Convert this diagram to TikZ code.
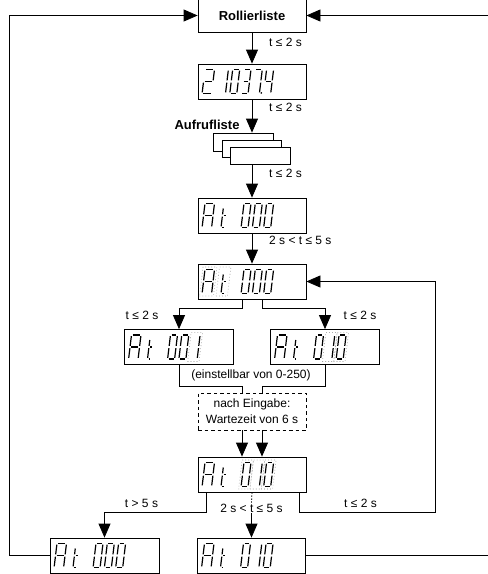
\documentclass[tikz,border=0pt]{standalone}
\usepackage{fontspec}
\setmainfont{Liberation Sans}
\usetikzlibrary{arrows.meta,calc}
\newcommand\segW{7}
\pgfkeys{
 /seg/a/.code={\draw[segline] (1.1,24) -- ({\segW-1.1},24);},
 /seg/b/.code={\draw[segline] (\segW,22.9) -- (\segW,13.1);},
 /seg/c/.code={\draw[segline] (\segW,10.9) -- (\segW,1.1);},
 /seg/d/.code={\draw[segline] (1.1,0) -- ({\segW-1.1},0);},
 /seg/e/.code={\draw[segline] (0,1.1) -- (0,10.9);},
 /seg/f/.code={\draw[segline] (0,13.1) -- (0,22.9);},
 /seg/g/.code={\draw[segline] (1.1,12) -- ({\segW-1.1},12);},
 /seg/p/.code={\fill ({\segW+1.8},0.6) circle (0.9pt);},
 /seg/t/.code={\draw[segline] (2.5,19) -- (2.5,13.1); \draw[segline] (2.5,10.9) -- (2.5,1.1); \draw[segline] (3.6,12) -- (5.8,12); \draw[segline] (3.6,0) -- (5.2,0);},
 /seg/blink/.code={\draw[blinkline] (-2.2,-2.5) -- ({\segW+2.2},-2.5) -- ({\segW+2.2},26.5) -- (-2.2,26.5) -- cycle;}
}
\tikzset{
 segline/.style={line width=1.2pt, line cap=butt},
 blinkline/.style={gray, line width=0.6pt, dash pattern=on 0.6pt off 2.4pt},
 pics/ss/.style={code={\begin{scope}[x={(1pt,0pt)},y={(0.12pt,1pt)}]\foreach \s in {#1}{\edef\tmp{\noexpand\pgfkeys{/seg/\s}}\tmp}\end{scope}}},
 pics/sw/.style={code={\begin{scope}[x={(1pt,0pt)},y={(0.12pt,1pt)}]\renewcommand\segW{9.5}\foreach \s in {#1}{\edef\tmp{\noexpand\pgfkeys{/seg/\s}}\tmp}\end{scope}}},
 disp/.style={draw, line width=0.8pt, minimum width=108pt, minimum height=35pt, inner sep=0pt, fill=white},
 stackbox/.style={draw, line width=0.8pt, minimum width=60pt, minimum height=17pt, inner sep=0pt, fill=white},
 lbl/.style={font=\fontsize{12}{14}\selectfont, inner sep=1pt},
 conn/.style={line width=0.8pt},
 arr/.style={line width=0.8pt, -{Triangle[length=14pt,width=12pt]}},
}
\newcommand\glyph[4]{\pic at ($(#1.west)+(#2,12)$) {#3={#4}};}
\begin{document}
\begin{tikzpicture}[x=1pt,y=-1pt]
\useasboundingbox (0,0) rectangle (488,574);
% nodes
\node[draw, line width=0.8pt, minimum width=108pt, minimum height=33pt, font=\fontsize{13}{15}\selectfont\bfseries] (Roll) at (252,15.5) {Rollierliste};
\node[disp] (D1) at (252,81.5) {};
\node[font=\fontsize{13}{15}\selectfont\bfseries, inner sep=0pt] (Auf) at (207,125) {Aufrufliste};
\node[stackbox, minimum height=18pt] (B1) at (243,142) {};
\node[stackbox, minimum width=59pt] (B2) at (251.5,148.5) {};
\node[stackbox] (B3) at (260,155.5) {};
\node[disp] (D2) at (252,215.5) {};
\node[disp] (D3) at (252,281.5) {};
\node[disp, minimum width=109pt] (D4) at (179,347) {};
\node[disp, minimum width=109pt] (D5) at (325,347) {};
\node[lbl] (Ein) at (251,375) {(einstellbar von 0-250)};
\node[draw, dash pattern=on 3.5pt off 3pt, line width=0.8pt, minimum width=108pt, minimum height=37pt, align=center, font=\fontsize{12}{16}\selectfont, inner sep=1pt] (Dash) at (252,411.5) {nach Eingabe:\\Wartezeit von 6 s};
\node[disp] (D6) at (252,474.5) {};
\node[disp, minimum width=109pt] (D7) at (104.5,555.5) {};
\node[disp] (D8) at (251.5,555.5) {};
% labels
\node[lbl, anchor=west] (L1) at (268,42) {t ≤ 2 s};
\node[lbl, anchor=west] (L2) at (268,107) {t ≤ 2 s};
\node[lbl, anchor=west] (L3) at (268,173) {t ≤ 2 s};
\node[lbl, anchor=west] (L4) at (268,240) {2 s < t ≤ 5 s};
\node[lbl] (L5) at (142,315) {t ≤ 2 s};
\node[lbl] (L6) at (360,315) {t ≤ 2 s};
\node[lbl] (L7) at (141.5,503) {t > 5 s};
\node[lbl] (L8) at (251.5,508) {2 s < t ≤ 5 s};
\node[lbl] (L9) at (360.5,503) {t ≤ 2 s};
\coordinate (LX) at (9,0);
\coordinate (RX) at (494,0);
\coordinate (RV) at (435,0);
% connectors
\draw[arr] (Roll) -- (D1);
\draw[arr] (D1.south) -- (D1.south |- B1.north);
\draw[arr] (B3.south -| D2) -- (D2.north);
\draw[arr] (D2) -- (D3);
\draw[arr] ([xshift=-10pt]D3.south) -- ++(0,9) -| (D4.north);
\draw[arr] ([xshift=10pt]D3.south) -- ++(0,9) -| (D5.north);
\draw[conn] (D4.south) -- ++(0,21) -| ([xshift=-10pt]Dash.north);
\draw[conn] (D5.south) -- ++(0,21) -| ([xshift=10pt]Dash.north);
\draw[arr] ([xshift=-10pt]Dash.south) -- ([xshift=-10pt]D6.north);
\draw[arr] ([xshift=10pt]Dash.south) -- ([xshift=10pt]D6.north);
\draw[arr] ([xshift=-46pt]D6.south) -- ++(0,20) -| (D7.north);
\draw[conn, dash pattern=on 1.5pt off 1.5pt] (D6.south) -- (L8.north);
\draw[arr] (L8.south) -- (D8.north);
\draw[arr] ([xshift=47pt]D6.south) -- ++(0,20) -| (RV |- D3.east) -- (D3.east);
\draw[arr] (D7.west) -| (LX |- Roll.west) -- (Roll.west);
\draw[arr] (D8.east) -| (RX |- Roll.east) -- (Roll.east);
% glyphs D1: 2 1 0 3 7. 4
\glyph{D1}{4.5}{sw}{a,b,g,e,d}
\glyph{D1}{20.9}{ss}{b,c}
\glyph{D1}{32.2}{ss}{a,b,c,d,e,f}
\glyph{D1}{43.5}{ss}{a,b,g,c,d}
\glyph{D1}{54.8}{ss}{a,b,c,p}
\glyph{D1}{66.1}{ss}{f,g,b,c}
% D2: A t 0 0 0
\glyph{D2}{4.5}{sw}{a,b,c,e,f,g}
\glyph{D2}{20.9}{ss}{t}
\glyph{D2}{43.5}{ss}{a,b,c,d,e,f}
\glyph{D2}{54.8}{ss}{a,b,c,d,e,f}
\glyph{D2}{66.1}{ss}{a,b,c,d,e,f}
% D3: A t blinking
\glyph{D3}{4.5}{sw}{a,b,c,e,f,g,blink}
\glyph{D3}{20.9}{ss}{t,blink}
\glyph{D3}{43.5}{ss}{a,b,c,d,e,f}
\glyph{D3}{54.8}{ss}{a,b,c,d,e,f}
\glyph{D3}{66.1}{ss}{a,b,c,d,e,f}
% D4: A t 0 0 1(blink)
\glyph{D4}{4.5}{sw}{a,b,c,e,f,g}
\glyph{D4}{20.9}{ss}{t}
\glyph{D4}{43.5}{ss}{a,b,c,d,e,f}
\glyph{D4}{54.8}{ss}{a,b,c,d,e,f}
\glyph{D4}{66.1}{ss}{b,c,blink}
% D5: A t 0 1 0 (10 blink)
\glyph{D5}{4.5}{sw}{a,b,c,e,f,g}
\glyph{D5}{20.9}{ss}{t}
\glyph{D5}{43.5}{ss}{a,b,c,d,e,f}
\glyph{D5}{54.8}{ss}{b,c,blink}
\glyph{D5}{66.1}{ss}{a,b,c,d,e,f,blink}
% D6: A t 0 1 0 (010 blink)
\glyph{D6}{4.5}{sw}{a,b,c,e,f,g}
\glyph{D6}{20.9}{ss}{t}
\glyph{D6}{43.5}{ss}{a,b,c,d,e,f,blink}
\glyph{D6}{54.8}{ss}{b,c,blink}
\glyph{D6}{66.1}{ss}{a,b,c,d,e,f,blink}
% D7: A t 0 0 0
\glyph{D7}{4.5}{sw}{a,b,c,e,f,g}
\glyph{D7}{20.9}{ss}{t}
\glyph{D7}{43.5}{ss}{a,b,c,d,e,f}
\glyph{D7}{54.8}{ss}{a,b,c,d,e,f}
\glyph{D7}{66.1}{ss}{a,b,c,d,e,f}
% D8: A t 0 1 0
\glyph{D8}{4.5}{sw}{a,b,c,e,f,g}
\glyph{D8}{20.9}{ss}{t}
\glyph{D8}{43.5}{ss}{a,b,c,d,e,f}
\glyph{D8}{54.8}{ss}{b,c}
\glyph{D8}{66.1}{ss}{a,b,c,d,e,f}
\end{tikzpicture}
\end{document}
